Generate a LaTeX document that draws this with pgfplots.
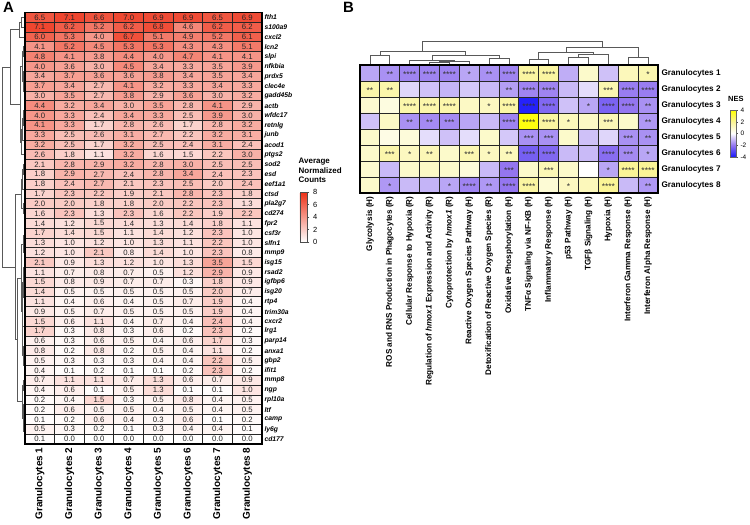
\documentclass[border=0pt]{standalone}
\usepackage{pgfplots}
\pgfplotsset{compat=1.18}
\usepackage{pgfplotstable}
\usepackage{fontspec}
\setmainfont{Liberation Sans}
\setsansfont{Liberation Sans}

% Panel A: average normalized counts, 44 genes x 8 clusters (row by row)
\pgfplotstableread[row sep=\\]{
v\\
6.5\\ 7.1\\ 6.6\\ 7.0\\ 6.9\\ 6.9\\ 6.5\\ 6.9\\
7.1\\ 6.2\\ 5.2\\ 6.2\\ 6.8\\ 4.6\\ 6.2\\ 6.2\\
6.0\\ 5.3\\ 4.0\\ 6.7\\ 5.1\\ 4.9\\ 5.2\\ 6.1\\
4.1\\ 5.2\\ 4.5\\ 5.3\\ 5.3\\ 4.3\\ 4.3\\ 5.1\\
4.8\\ 4.1\\ 3.8\\ 4.4\\ 4.0\\ 4.7\\ 4.1\\ 4.1\\
4.0\\ 3.6\\ 3.0\\ 4.5\\ 3.4\\ 3.3\\ 3.5\\ 3.9\\
3.4\\ 3.7\\ 3.6\\ 3.6\\ 3.8\\ 3.4\\ 3.5\\ 3.4\\
3.7\\ 3.4\\ 2.7\\ 4.1\\ 3.2\\ 3.3\\ 3.4\\ 3.3\\
3.0\\ 3.5\\ 2.7\\ 3.8\\ 2.9\\ 3.6\\ 3.0\\ 3.2\\
4.4\\ 3.2\\ 3.4\\ 3.0\\ 3.5\\ 2.8\\ 4.1\\ 2.9\\
4.0\\ 3.3\\ 2.4\\ 3.4\\ 3.3\\ 2.5\\ 3.9\\ 3.0\\
4.1\\ 3.3\\ 1.7\\ 2.8\\ 2.6\\ 1.7\\ 2.8\\ 3.2\\
3.3\\ 2.5\\ 2.6\\ 3.1\\ 2.7\\ 2.2\\ 3.2\\ 3.1\\
3.2\\ 2.5\\ 1.7\\ 3.2\\ 2.5\\ 2.4\\ 3.1\\ 2.4\\
2.6\\ 1.8\\ 1.1\\ 3.2\\ 1.6\\ 1.5\\ 2.2\\ 3.0\\
2.1\\ 2.8\\ 2.9\\ 3.2\\ 2.8\\ 3.0\\ 2.5\\ 2.5\\
1.8\\ 2.9\\ 2.7\\ 2.4\\ 2.8\\ 3.4\\ 2.4\\ 2.3\\
1.8\\ 2.4\\ 2.7\\ 2.1\\ 2.3\\ 2.5\\ 2.0\\ 2.4\\
1.7\\ 2.3\\ 2.2\\ 1.9\\ 2.1\\ 2.8\\ 2.3\\ 1.8\\
2.0\\ 2.0\\ 1.8\\ 1.8\\ 2.0\\ 2.2\\ 2.3\\ 1.3\\
1.6\\ 2.3\\ 1.3\\ 2.3\\ 1.6\\ 2.2\\ 1.9\\ 2.2\\
1.4\\ 1.2\\ 1.5\\ 1.4\\ 1.3\\ 1.4\\ 1.8\\ 1.1\\
1.7\\ 1.4\\ 1.5\\ 1.1\\ 1.4\\ 1.2\\ 2.3\\ 1.0\\
1.3\\ 1.0\\ 1.2\\ 1.0\\ 1.3\\ 1.1\\ 2.2\\ 1.0\\
1.2\\ 1.0\\ 2.1\\ 0.8\\ 1.4\\ 1.0\\ 2.3\\ 0.8\\
2.1\\ 0.9\\ 1.3\\ 1.2\\ 1.0\\ 1.3\\ 3.5\\ 1.5\\
1.1\\ 0.7\\ 0.8\\ 0.7\\ 0.5\\ 1.2\\ 2.9\\ 0.9\\
1.5\\ 0.8\\ 0.9\\ 0.7\\ 0.7\\ 0.3\\ 1.8\\ 0.9\\
1.4\\ 0.5\\ 0.5\\ 0.5\\ 0.5\\ 0.5\\ 2.0\\ 0.7\\
1.1\\ 0.4\\ 0.6\\ 0.4\\ 0.5\\ 0.7\\ 1.9\\ 0.4\\
0.9\\ 0.5\\ 0.7\\ 0.5\\ 0.5\\ 0.5\\ 1.9\\ 0.4\\
1.5\\ 0.6\\ 1.1\\ 0.4\\ 0.7\\ 0.4\\ 2.4\\ 0.4\\
1.7\\ 0.3\\ 0.8\\ 0.3\\ 0.6\\ 0.2\\ 2.3\\ 0.2\\
0.6\\ 0.3\\ 0.6\\ 0.5\\ 0.4\\ 0.6\\ 1.7\\ 0.3\\
0.8\\ 0.2\\ 0.8\\ 0.2\\ 0.5\\ 0.4\\ 1.1\\ 0.2\\
0.5\\ 0.3\\ 0.3\\ 0.3\\ 0.4\\ 0.4\\ 2.2\\ 0.5\\
0.4\\ 0.1\\ 0.2\\ 0.1\\ 0.1\\ 0.2\\ 2.3\\ 0.2\\
0.7\\ 1.1\\ 1.1\\ 0.7\\ 1.3\\ 0.6\\ 0.7\\ 0.9\\
0.4\\ 0.6\\ 0.1\\ 0.5\\ 1.3\\ 0.1\\ 0.1\\ 1.0\\
0.2\\ 0.4\\ 1.5\\ 0.3\\ 0.5\\ 0.8\\ 0.4\\ 0.5\\
0.2\\ 0.6\\ 0.5\\ 0.5\\ 0.4\\ 0.5\\ 0.4\\ 0.5\\
0.1\\ 0.2\\ 0.6\\ 0.4\\ 0.3\\ 0.6\\ 0.1\\ 0.2\\
0.5\\ 0.3\\ 0.2\\ 0.1\\ 0.3\\ 0.4\\ 0.4\\ 0.1\\
0.1\\ 0.0\\ 0.0\\ 0.0\\ 0.0\\ 0.0\\ 0.0\\ 0.0\\
}\heatA

% Panel B: NES, 8 clusters x 15 pathways (row by row)
\pgfplotstableread[row sep=\\]{
v\\
-1.3\\ -1.6\\ -1.8\\ -1.8\\ -1.8\\ -1.3\\ -1.6\\ -1.8\\ 1.8\\ 1.8\\ -1.2\\ 1.0\\ -0.9\\ 1.3\\ 1.5\\
1.6\\ 1.6\\ -0.6\\ -0.9\\ -1.1\\ -0.8\\ -1.0\\ -1.4\\ -1.8\\ -1.8\\ -1.0\\ -0.5\\ 1.5\\ -1.9\\ -1.9\\
0.9\\ 0.6\\ 1.6\\ 1.6\\ 1.6\\ 1.1\\ 1.2\\ 1.7\\ -3.8\\ -2.3\\ -0.9\\ -1.3\\ -2.4\\ -2.0\\ -1.6\\
-0.9\\ 1.1\\ -1.6\\ -1.7\\ -1.7\\ -1.3\\ -1.0\\ -1.8\\ 3.8\\ 1.8\\ 1.3\\ 1.1\\ 1.4\\ 1.0\\ -1.5\\
1.0\\ 0.5\\ 0.7\\ -0.5\\ -0.9\\ -0.5\\ 1.0\\ -0.8\\ -1.6\\ -1.6\\ 1.0\\ -0.9\\ -0.6\\ -1.6\\ -1.6\\
1.0\\ 1.6\\ 1.2\\ 1.4\\ 1.0\\ 1.5\\ 1.2\\ 1.3\\ -2.5\\ -2.3\\ -1.0\\ -1.0\\ -2.2\\ -1.7\\ -1.3\\
0.9\\ -1.0\\ 1.0\\ 1.1\\ 1.0\\ 0.7\\ -1.0\\ -2.0\\ 1.0\\ 1.4\\ 1.0\\ 0.0\\ -1.3\\ 2.0\\ 2.0\\
1.0\\ -1.5\\ -1.0\\ -1.1\\ -1.3\\ -1.8\\ -1.5\\ -2.0\\ 1.8\\ 0.8\\ 1.2\\ 1.3\\ 2.0\\ -1.0\\ -1.5\\
}\heatB

% Panel B significance stars
\pgfplotstableread[row sep=\\]{
x y s\\
1 0 **\\ 2 0 ****\\ 3 0 ****\\ 4 0 ****\\ 5 0 *\\ 6 0 **\\ 7 0 ****\\ 8 0 ****\\ 9 0 ****\\ 14 0 *\\
0 1 **\\ 1 1 **\\ 7 1 **\\ 8 1 ****\\ 9 1 ****\\ 12 1 ***\\ 13 1 ****\\ 14 1 ****\\
2 2 ****\\ 3 2 ****\\ 4 2 ****\\ 6 2 *\\ 7 2 ****\\ 8 2 ****\\ 9 2 ****\\ 11 2 *\\ 12 2 ****\\ 13 2 ****\\ 14 2 **\\
2 3 **\\ 3 3 **\\ 4 3 ***\\ 7 3 ****\\ 8 3 ****\\ 9 3 ****\\ 10 3 *\\ 12 3 ***\\ 14 3 **\\
8 4 ***\\ 9 4 ***\\ 13 4 ***\\ 14 4 **\\
1 5 ***\\ 2 5 *\\ 3 5 **\\ 5 5 ***\\ 6 5 *\\ 7 5 **\\ 8 5 ****\\ 9 5 ****\\ 12 5 ****\\ 13 5 ***\\ 14 5 *\\
7 6 ***\\ 9 6 ***\\ 12 6 *\\ 13 6 ****\\ 14 6 ****\\
1 7 *\\ 4 7 *\\ 5 7 ****\\ 6 7 **\\ 7 7 ****\\ 8 7 ****\\ 10 7 *\\ 12 7 ****\\ 14 7 **\\
}\starB

% Dendrogram of panel A rows (x: px from left, y: row index)
\pgfplotstableread[row sep=\\]{
x y\\
25 0\\ 21.5 0\\ 21.5 1\\ 25 1\\ nan nan\\
21.5 0.5\\ 19.5 0.5\\ 19.5 2\\ 25 2\\ nan nan\\
25 3\\ 23.5 3\\ 23.5 4\\ 25 4\\ nan nan\\
25 5\\ 24.2 5\\ 24.2 6\\ 25 6\\ nan nan\\
25 7\\ 24.2 7\\ 24.2 8\\ 25 8\\ nan nan\\
24.2 5.5\\ 23.5 5.5\\ 23.5 7.5\\ 24.2 7.5\\ nan nan\\
23.5 3.5\\ 22.5 3.5\\ 22.5 6.5\\ 23.5 6.5\\ nan nan\\
25 9\\ 24 9\\ 24 10\\ 25 10\\ nan nan\\
24 9.5\\ 23 9.5\\ 23 11\\ 25 11\\ nan nan\\
25 12\\ 24.3 12\\ 24.3 13\\ 25 13\\ nan nan\\
23 10.25\\ 22 10.25\\ 22 12.5\\ 24.3 12.5\\ nan nan\\
22 11.375\\ 21 11.375\\ 21 14\\ 25 14\\ nan nan\\
22.5 5\\ 20 5\\ 20 12.69\\ 21 12.69\\ nan nan\\
19.5 1.25\\ 10 1.25\\ 10 8.84\\ 20 8.84\\ nan nan\\
25 15\\ 23.5 15\\ 23.5 16\\ 25 16\\ nan nan\\
25 17\\ 24 17\\ 24 18\\ 25 18\\ nan nan\\
23.5 15.5\\ 22.5 15.5\\ 22.5 17.5\\ 24 17.5\\ nan nan\\
25 19\\ 23.8 19\\ 23.8 20\\ 25 20\\ nan nan\\
22.5 16.5\\ 21 16.5\\ 21 19.5\\ 23.8 19.5\\ nan nan\\
25 21\\ 24.5 21\\ 24.5 22\\ 25 22\\ nan nan\\
24.5 21.5\\ 24 21.5\\ 24 23\\ 25 23\\ nan nan\\
24 22.25\\ 23 22.25\\ 23 24\\ 25 24\\ nan nan\\
25 25\\ 24 25\\ 24 26\\ 25 26\\ nan nan\\
25 27\\ 24.5 27\\ 24.5 28\\ 25 28\\ nan nan\\
25 29\\ 24.5 29\\ 24.5 30\\ 25 30\\ nan nan\\
24.5 27.5\\ 24 27.5\\ 24 29.5\\ 24.5 29.5\\ nan nan\\
24 25.5\\ 23 25.5\\ 23 28.5\\ 24 28.5\\ nan nan\\
25 31\\ 24 31\\ 24 32\\ 25 32\\ nan nan\\
25 33\\ 24.5 33\\ 24.5 34\\ 25 34\\ nan nan\\
25 35\\ 24.2 35\\ 24.2 36\\ 25 36\\ nan nan\\
24.5 33.5\\ 23.5 33.5\\ 23.5 35.5\\ 24.2 35.5\\ nan nan\\
24 31.5\\ 22.5 31.5\\ 22.5 34.5\\ 23.5 34.5\\ nan nan\\
23 27\\ 22 27\\ 22 33\\ 22.5 33\\ nan nan\\
23 23.125\\ 21 23.125\\ 21 30\\ 22 30\\ nan nan\\
25 37\\ 23.5 37\\ 23.5 38\\ 25 38\\ nan nan\\
25 39\\ 24.5 39\\ 24.5 40\\ 25 40\\ nan nan\\
25 41\\ 24.5 41\\ 24.5 42\\ 25 42\\ nan nan\\
24.5 41.5\\ 24 41.5\\ 24 43\\ 25 43\\ nan nan\\
24.5 39.5\\ 23 39.5\\ 23 42.25\\ 24 42.25\\ nan nan\\
23.5 37.5\\ 22 37.5\\ 22 40.875\\ 23 40.875\\ nan nan\\
21 26.56\\ 17 26.56\\ 17 39.19\\ 22 39.19\\ nan nan\\
21 18\\ 15 18\\ 15 32.875\\ 17 32.875\\ nan nan\\
10 5.05\\ 2.7 5.05\\ 2.7 25.44\\ 15 25.44\\
}\dendA

% Dendrogram of panel B columns (x: column index, y: px from top)
\pgfplotstableread[row sep=\\]{
x y\\
0 65\\ 0 55\\ 1 55\\ 1 65\\ nan nan\\
3 65\\ 3 62.7\\ 4 62.7\\ 4 65\\ nan nan\\
3.5 62.7\\ 3.5 61.3\\ 5 61.3\\ 5 65\\ nan nan\\
2 65\\ 2 60\\ 4.25 60\\ 4.25 61.3\\ nan nan\\
6 65\\ 6 58.3\\ 7 58.3\\ 7 65\\ nan nan\\
3.125 60\\ 3.125 55.7\\ 6.5 55.7\\ 6.5 58.3\\ nan nan\\
0.5 55\\ 0.5 51.7\\ 4.81 51.7\\ 4.81 55.7\\ nan nan\\
8 65\\ 8 59.3\\ 9 59.3\\ 9 65\\ nan nan\\
10 65\\ 10 57.7\\ 11 57.7\\ 11 65\\ nan nan\\
10.5 57.7\\ 10.5 54\\ 12 54\\ 12 65\\ nan nan\\
8.5 59.3\\ 8.5 52.3\\ 11.25 52.3\\ 11.25 54\\ nan nan\\
13 65\\ 13 57.7\\ 14 57.7\\ 14 65\\ nan nan\\
9.875 52.3\\ 9.875 47.7\\ 13.5 47.7\\ 13.5 57.7\\ nan nan\\
2.66 51.7\\ 2.66 41\\ 11.69 41\\ 11.69 47.7\\
}\dendB

\begin{document}
\begin{tikzpicture}
\path[use as bounding box] (0,0) rectangle (750bp,-525bp);

% ---------------- Panel A dendrogram
\begin{axis}[at={(0bp,-12.5bp)}, anchor=north west, scale only axis,
  width=25bp, height=431.5bp, xmin=0, xmax=25, ymin=-0.5, ymax=43.5,
  y dir=reverse, hide axis, clip=false]
\addplot[draw=black!65, line width=0.7bp, mark=none, unbounded coords=jump]
  table[x=x, y=y] {\dendA};
\end{axis}

% ---------------- Panel A heatmap
\begin{axis}[at={(25bp,-12.5bp)}, anchor=north west, scale only axis,
  width=237bp, height=431.5bp,
  xmin=-0.5, xmax=7.5, ymin=-0.5, ymax=43.5, y dir=reverse,
  enlargelimits=false,
  /pgf/number format/assume math mode=true,
  colormap={reds}{rgb255(0cm)=(255,255,255); rgb255(1cm)=(237,48,22)},
  point meta min=0, point meta max=8,
  xtick={0,...,7},
  xticklabels={Granulocytes 1,Granulocytes 2,Granulocytes 3,Granulocytes 4,Granulocytes 5,Granulocytes 6,Granulocytes 7,Granulocytes 8},
  xticklabel style={rotate=90, anchor=east, font=\bfseries\fontsize{10}{12}\selectfont, xshift=0bp},
  ytick={0,...,43},
  yticklabels={fth1,s100a9,cxcl2,lcn2,slpi,nfkbia,prdx5,clec4e,gadd45b,actb,wfdc17,retnlg,junb,acod1,ptgs2,sod2,esd,eef1a1,ctsd,pla2g7,cd274,fpr2,csf3r,slfn1,mmp9,isg15,rsad2,igfbp6,isg20,rtp4,trim30a,cxcr2,lrg1,parp14,anxa1,gbp2,ifit1,mmp8,ngp,rpl10a,ltf,camp,ly6g,cd177},
  yticklabel pos=right,
  yticklabel style={font=\bfseries\itshape\fontsize{6.8}{8}\selectfont, anchor=west, xshift=-1bp},
  major tick length=0pt, minor tick length=0pt,
  minor xtick={-0.5,0.5,...,7.5}, minor ytick={-0.5,0.5,...,43.5},
  grid=minor, minor grid style={black!85, line width=0.9bp},
  axis on top, axis line style={black, line width=1.3bp},
  colorbar,
  colorbar style={
    at={(parent axis.north east)}, anchor=north west, xshift=29.5bp, yshift=-179.5bp,
    scale only axis, width=7.5bp, height=50bp,
    y dir=normal, grid=none, xtick=\empty,
    ytick={0,2,4,6,8}, yticklabels={0,2,4,6,8}, yticklabel pos=right, ytick pos=right,
    tick align=outside, major tick length=2bp, minor tick length=0pt,
    ytick style={black!70, line width=0.5bp},
    yticklabel style={font=\fontsize{7.5}{8}\selectfont, anchor=west, xshift=0bp},
    axis line style={black!70, line width=0.6bp},
    title={Average\\Normalized\\Counts},
    title style={at={(0,1)}, anchor=south west, align=left, inner sep=0pt,
      yshift=3bp, xshift=-1.5bp, font=\bfseries\fontsize{8}{9.6}\selectfont},
  },
]
\addplot[matrix plot*, mesh/cols=8, point meta=explicit]
  table[x index=0, y index=0, x expr={mod(\coordindex,8)}, y expr={floor((\coordindex+0.5)/8)}, meta=v] {\heatA};
\addplot[only marks, mark=none, point meta=explicit,
  nodes near coords={\pgfmathprintnumber[fixed,fixed zerofill,precision=1]{\pgfplotspointmeta}},
  nodes near coords align=center,
  every node near coord/.append style={text=black!85, font=\fontsize{7.8}{8}\selectfont, inner sep=0pt}]
  table[x index=0, y index=0, x expr={mod(\coordindex,8)}, y expr={floor((\coordindex+0.5)/8)}, meta=v] {\heatA};
\end{axis}

% ---------------- Panel B dendrogram
\begin{axis}[at={(360bp,-38bp)}, anchor=north west, scale only axis,
  width=298bp, height=27bp, xmin=-0.5, xmax=14.5, ymin=38, ymax=65,
  y dir=reverse, hide axis, clip=false]
\addplot[draw=black!65, line width=0.7bp, mark=none, unbounded coords=jump]
  table[x=x, y=y] {\dendB};
\end{axis}

% ---------------- Panel B heatmap
\begin{axis}[at={(360bp,-65bp)}, anchor=north west, scale only axis,
  width=298bp, height=128bp,
  xmin=-0.5, xmax=14.5, ymin=-0.5, ymax=7.5, y dir=reverse,
  enlargelimits=false,
  colormap={nes}{rgb255(0cm)=(25,25,250); rgb255(1cm)=(148,118,240); rgb255(2cm)=(255,255,255); rgb255(3cm)=(250,244,150); rgb255(4cm)=(255,255,0)},
  point meta min=-4, point meta max=4,
  xtick={0,...,14},
  xticklabels={{Glycolysis (H)},{ROS and RNS Production in Phagocytes (R)},{Cellular Response to Hypoxia (R)},{Regulation of \textit{hmox1} Expression and Activity (R)},{Cytoprotection by \textit{hmox1} (R)},{Reactive Oxygen Species Pathway (H)},{Detoxification of Reactive Oxygen Species (R)},{Oxidative Phosphorylation (H)},{TNFα Signaling via NF-KB (H)},{Inflammatory Response (H)},{p53 Pathway (H)},{TGFβ Signaling (H)},{Hypoxia (H)},{Interferon Gamma Response (H)},{Interferon Alpha Response (H)}},
  xticklabel style={rotate=90, anchor=east, font=\bfseries\fontsize{8.2}{10}\selectfont},
  ytick={0,...,7},
  yticklabels={Granulocytes 1,Granulocytes 2,Granulocytes 3,Granulocytes 4,Granulocytes 5,Granulocytes 6,Granulocytes 7,Granulocytes 8},
  yticklabel pos=right,
  yticklabel style={font=\bfseries\fontsize{8.2}{10}\selectfont, anchor=west},
  major tick length=0pt, minor tick length=0pt,
  minor xtick={-0.5,0.5,...,14.5}, minor ytick={-0.5,0.5,...,7.5},
  grid=minor, minor grid style={black!85, line width=0.9bp},
  axis on top, axis line style={black, line width=1.3bp},
  colorbar,
  colorbar style={
    at={(parent axis.north east)}, anchor=north west, xshift=63.5bp, yshift=-45bp,
    scale only axis, width=6bp, height=47bp,
    y dir=normal, grid=none, xtick=\empty,
    ytick={-4,-2,0,2,4}, yticklabels={-4,-2,0,2,4}, yticklabel pos=right, ytick pos=right,
    tick align=outside, major tick length=1.5bp, minor tick length=0pt,
    ytick style={black!70, line width=0.5bp},
    yticklabel style={font=\fontsize{6.5}{7}\selectfont, anchor=west, xshift=-0.5bp},
    axis line style={black!60, line width=0.5bp},
    title={NES},
    title style={at={(0,1)}, anchor=south west, inner sep=0pt,
      yshift=2.5bp, xshift=-2bp, font=\bfseries\fontsize{7.5}{8}\selectfont},
  },
]
\addplot[matrix plot*, mesh/cols=15, point meta=explicit]
  table[x index=0, y index=0, x expr={mod(\coordindex,15)}, y expr={floor((\coordindex+0.5)/15)}, meta=v] {\heatB};
\addplot[only marks, mark=none, point meta=explicit symbolic,
  nodes near coords, nodes near coords align=center,
  every node near coord/.append style={text=black!80, font=\fontsize{8.5}{8.5}\selectfont, inner sep=0pt, yshift=-1.8bp}]
  table[x=x, y=y, meta=s] {\starB};
\end{axis}

% panel letters
\node[anchor=north west, inner sep=0pt, font=\bfseries\fontsize{15}{15}\selectfont] at (3bp,-2.5bp) {A};
\node[anchor=north west, inner sep=0pt, font=\bfseries\fontsize{15}{15}\selectfont] at (343bp,-2.5bp) {B};
\end{tikzpicture}
\end{document}
